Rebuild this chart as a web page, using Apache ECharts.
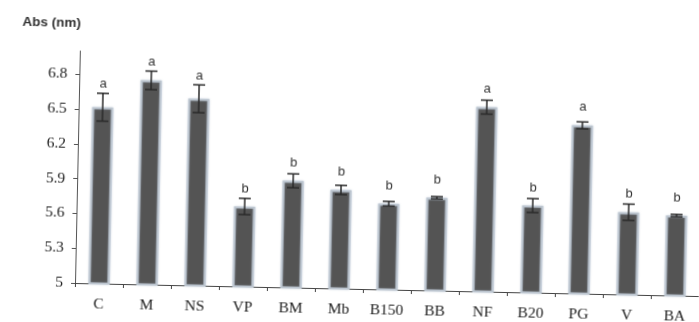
<!DOCTYPE html>
<html><head><meta charset="utf-8">
<script src="https://cdn.jsdelivr.net/npm/echarts@6/dist/echarts.min.js"></script>
<style>
html,body{margin:0;padding:0;background:#fff;overflow:hidden}
#c{width:699px;height:322px;transform-origin:75px 283px;transform:rotate(1.2deg);}
</style></head><body><div id="c"></div>
<script>
const categories = ['C','M','NS','VP','BM','Mb','B150','BB','NF','B20','PG','V','BA'];
const values = [6.52,6.76,6.61,5.69,5.92,5.85,5.74,5.80,6.59,5.75,6.45,5.71,5.69];
const errors = [0.12,0.08,0.12,0.07,0.06,0.04,0.02,0.01,0.06,0.06,0.03,0.07,0.01];
const letters = ['a','a','a','b','b','b','b','b','a','b','a','b','b'];
const yTicks = [5,5.3,5.6,5.9,6.2,6.5,6.8];

const chart = echarts.init(document.getElementById('c'), null, {renderer:'canvas'});
chart.setOption({
  animation:false,
  backgroundColor:'#fff',
  title:{text:'Abs (nm)', left:12, top:11,
    textStyle:{fontFamily:'Liberation Sans', fontWeight:'bold', fontSize:13.5, color:'#333'}},
  grid:{left:75, right:-13, top:51, bottom:39, containLabel:false},
  xAxis:{type:'category', data:categories,
    axisLine:{show:true, lineStyle:{color:'#444', width:1}},
    axisTick:{show:true, length:4, inside:false, lineStyle:{color:'#444'}},
    axisLabel:{interval:0, margin:13, fontFamily:'Liberation Serif', fontSize:15.5, color:'#222'},
    splitLine:{show:false}},
  yAxis:{type:'value', min:5, max:7, interval:0.3,
    axisLine:{show:true, lineStyle:{color:'#555', width:1}},
    axisTick:{show:true, length:4, inside:false, customValues:yTicks, lineStyle:{color:'#555'}},
    axisLabel:{margin:12, customValues:yTicks, fontFamily:'Liberation Serif', fontSize:15.5, color:'#222'},
    splitLine:{show:false}},
  series:[
    {type:'bar', data:values, barWidth:21,
      itemStyle:{color:'#545454', borderColor:'#bcc5cf', borderWidth:2,
        shadowBlur:2, shadowColor:'rgba(170,185,205,0.6)'}, z:2},
    {type:'custom', z:5,
      data:categories.map((c,i)=>[i, values[i], errors[i]]),
      renderItem:function(params, api){
        const i = api.value(0), v = api.value(1), e = api.value(2);
        const top = api.coord([i, v+e]);
        const bot = api.coord([i, v-e]);
        const bar = api.coord([i, v]);
        const cap = 6;
        const st = {stroke:'#2a2a2a', lineWidth:1.5};
        const ly = Math.min(bar[1]-18, top[1]-9);
        return {type:'group', children:[
          {type:'line', shape:{x1:top[0], y1:top[1], x2:bot[0], y2:bot[1]}, style:st},
          {type:'line', shape:{x1:top[0]-cap, y1:top[1], x2:top[0]+cap, y2:top[1]}, style:st},
          {type:'line', shape:{x1:bot[0]-cap, y1:bot[1], x2:bot[0]+cap, y2:bot[1]}, style:st},
          {type:'text', style:{text:letters[params.dataIndex], x:top[0], y:ly,
            align:'center', verticalAlign:'middle', font:'13px "Liberation Sans"', fill:'#333'}}
        ]};
      }}
  ]
});
</script></body></html>
